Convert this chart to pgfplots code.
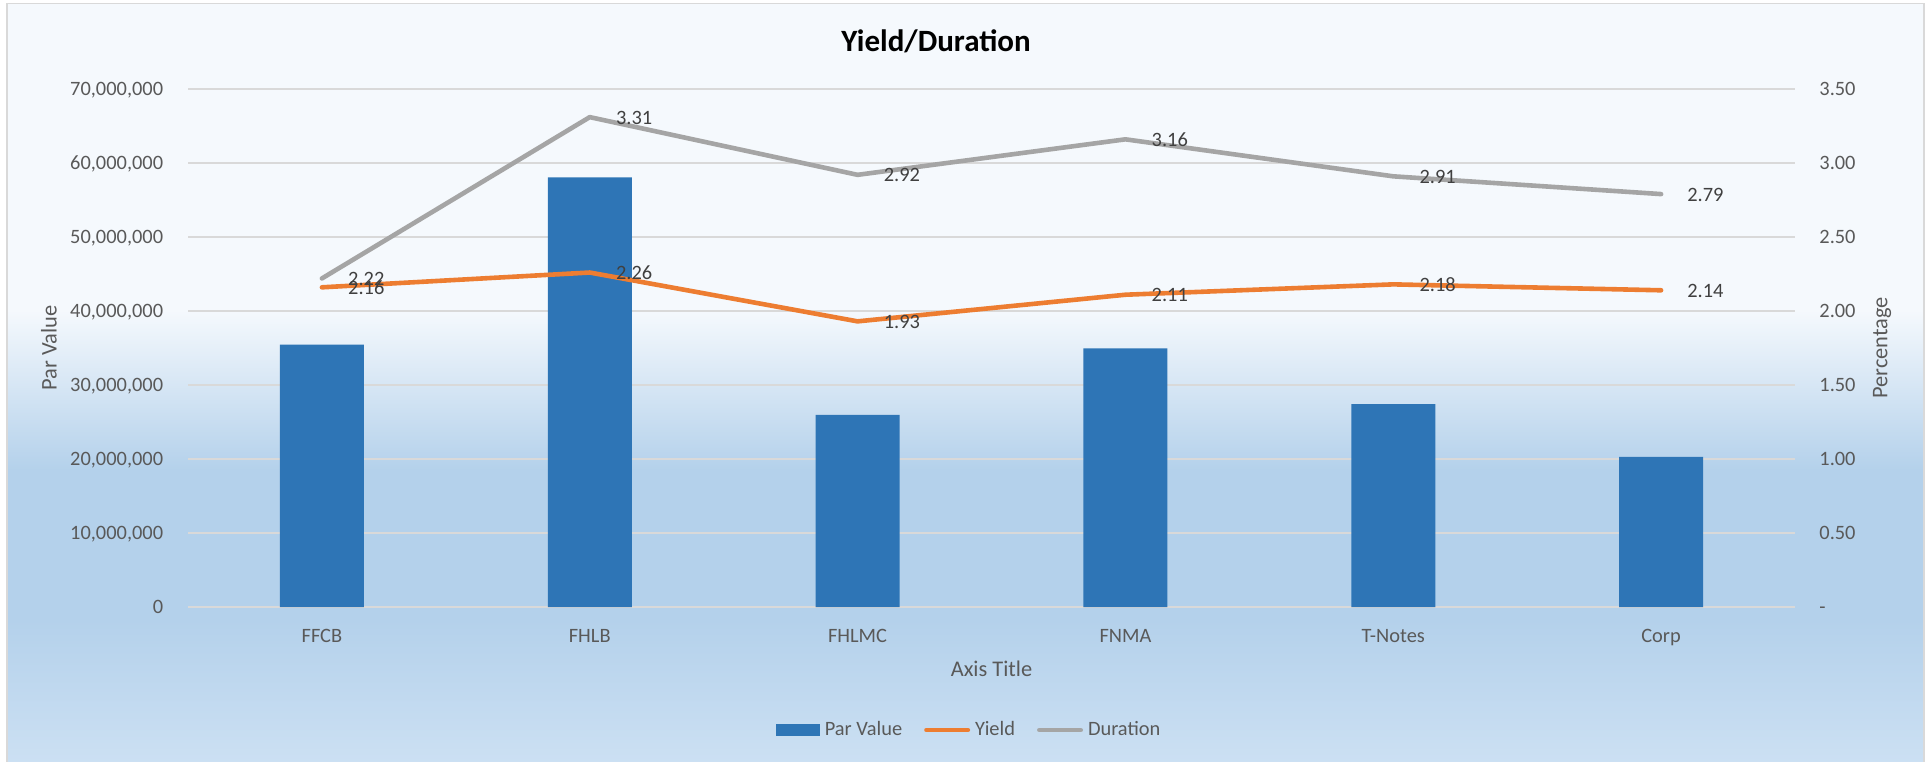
\documentclass[border=0pt]{standalone}
\usepackage{fontspec}
\setmainfont{Carlito}
\usepackage{pgfplots}
\pgfplotsset{compat=1.18}
\definecolor{barblue}{HTML}{2E75B6}
\definecolor{yieldor}{HTML}{ED7D31}
\definecolor{durgray}{HTML}{A5A5A5}
\definecolor{ticktext}{HTML}{595959}
\definecolor{labtext}{HTML}{404040}
\definecolor{gridc}{HTML}{D9D9D9}
\definecolor{bgtop}{HTML}{F5F9FD}
\definecolor{bgmid}{HTML}{B4D1EB}
\definecolor{bgbot}{HTML}{CCE0F3}
\begin{document}
\begin{tikzpicture}
\useasboundingbox (0,0) rectangle (965pt,380.5pt);
\fill[white] (0,0) rectangle (965pt,380.5pt);
\fill[bgtop] (3.5pt,225.4pt) rectangle (962pt,378.75pt);
\shade[top color=bgtop, bottom color=bgmid] (3.5pt,145.5pt) rectangle (962pt,225.5pt);
\fill[bgmid] (3.5pt,70.4pt) rectangle (962pt,145.6pt);
\shade[top color=bgmid, bottom color=bgbot] (3.5pt,-1pt) rectangle (962pt,70.5pt);
\draw[gridc, line width=0.75pt] (3.5pt,-2pt) -- (3.5pt,378.75pt) -- (962pt,378.75pt) -- (962pt,-2pt);

\begin{axis}[
  at={(94pt,77pt)}, anchor=south west, scale only axis,
  width=803.5pt, height=259pt,
  xmin=-0.5, xmax=5.5, ymin=0, ymax=70000000,
  axis line style={draw=none}, major tick length=0pt, tick style={draw=none},
  xtick={0,1,2,3,4,5}, xticklabels={FFCB,FHLB,FHLMC,FNMA,T-Notes,Corp},
  ytick={0,10000000,20000000,30000000,40000000,50000000,60000000,70000000},
  yticklabels={0,{10,000,000},{20,000,000},{30,000,000},{40,000,000},{50,000,000},{60,000,000},{70,000,000}},
  scaled y ticks=false,
  ymajorgrids, grid style={gridc, line width=0.75pt},
  /pgf/number format/assume math mode=true,
  tick label style={font=\fontsize{10.2}{12}\selectfont, text=ticktext, inner sep=0pt},
  yticklabel style={anchor=base east, xshift=-12.25pt, yshift=-3.2pt},
  xticklabel style={anchor=base, yshift=-17.5pt},
  clip=false,
]
\addplot[ybar, bar width=42pt, fill=barblue, draw=none] coordinates {
  (0,35450000) (1,58050000) (2,25970000) (3,34950000) (4,27400000) (5,20300000)
};
\end{axis}

\begin{axis}[
  at={(94pt,77pt)}, anchor=south west, scale only axis,
  width=803.5pt, height=259pt,
  xmin=-0.5, xmax=5.5, ymin=0, ymax=3.5,
  axis line style={draw=none}, major tick length=0pt, tick style={draw=none},
  xtick=\empty,
  ytick={0,0.5,1,1.5,2,2.5,3,3.5},
  yticklabels={-,0.50,1.00,1.50,2.00,2.50,3.00,3.50},
  yticklabel pos=right,
  /pgf/number format/assume math mode=true,
  tick label style={font=\fontsize{10.2}{12}\selectfont, text=ticktext, inner sep=0pt},
  yticklabel style={anchor=base west, xshift=12pt, yshift=-3.2pt},
  clip=false,
  legend columns=3,
  legend style={at={(0.4855,-0.2375)}, anchor=center, draw=none, fill=none,
    font=\fontsize{10.2}{12}\selectfont, text=ticktext,
    nodes={inner sep=0pt},
    /tikz/every odd column/.append style={column sep=2.5pt},
    /tikz/every even column/.append style={column sep=11pt}},
  legend entries={Par Value,Yield,Duration},
]
\addlegendimage{legend image code/.code={\fill[barblue] (0pt,-2.75pt) rectangle (21.5pt,2.75pt);}}
\addlegendimage{legend image code/.code={\draw[yieldor, line width=2.3pt, line cap=round] (1.15pt,0pt) -- (21.85pt,0pt);}}
\addlegendimage{legend image code/.code={\draw[durgray, line width=2.3pt, line cap=round] (1.15pt,0pt) -- (21.85pt,0pt);}}

\addplot[forget plot, durgray, line width=2.3pt, line cap=round, line join=round,
  nodes near coords={\pgfmathprintnumber[fixed,fixed zerofill,precision=2]{\pgfplotspointmeta}},
  point meta=y,
  nodes near coords style={anchor=base west, xshift=12pt, yshift=-3.5pt, inner sep=0pt,
    font=\fontsize{10.2}{12}\selectfont, text=labtext}]
  coordinates {(0,2.22) (1,3.31) (2,2.92) (3,3.16) (4,2.91) (5,2.79)};
\addplot[forget plot, yieldor, line width=2.3pt, line cap=round, line join=round,
  nodes near coords={\pgfmathprintnumber[fixed,fixed zerofill,precision=2]{\pgfplotspointmeta}},
  point meta=y,
  nodes near coords style={anchor=base west, xshift=12pt, yshift=-3.5pt, inner sep=0pt,
    font=\fontsize{10.2}{12}\selectfont, text=labtext}]
  coordinates {(0,2.16) (1,2.26) (2,1.93) (3,2.11) (4,2.18) (5,2.14)};
\end{axis}

\node[font=\bfseries\fontsize{15.5}{18}\selectfont, anchor=base, text=black] at (468pt,354.5pt) {Yield/Duration};
\node[font=\fontsize{11.2}{13}\selectfont, text=ticktext, rotate=90, anchor=center] at (24.5pt,206.5pt) {Par Value};
\node[font=\fontsize{11.2}{13}\selectfont, text=ticktext, rotate=90, anchor=center] at (941pt,206.5pt) {Percentage};
\node[font=\fontsize{11.2}{13}\selectfont, text=ticktext, anchor=base] at (495.75pt,42.5pt) {Axis Title};
\end{tikzpicture}
\end{document}
